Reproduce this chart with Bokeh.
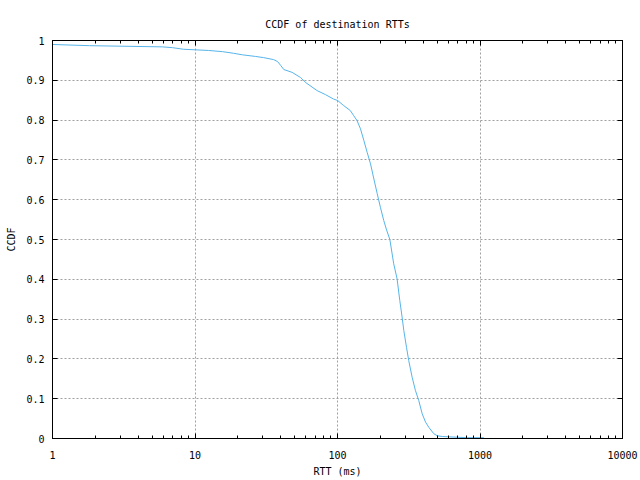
from bokeh.plotting import figure
from bokeh.models import FixedTicker, LogAxis, LinearAxis, Range1d
from bokeh.embed import file_html
from bokeh.resources import INLINE

rtt_ms = [1, 1.82, 5.9, 6.95, 8.3, 12.4, 15.6, 18.6, 21.5, 26.5, 30.3, 35.6, 38, 40, 42, 48,
          55, 60, 72, 82.4, 93.7, 100.5, 110, 123, 129.5, 137, 145, 153, 161.5, 170.5, 180,
          190, 200, 211, 221, 233, 248, 262, 273.5, 284, 292, 305, 316, 334, 352, 372, 393,
          415, 437.5, 474, 501, 543, 813, 1064]
ccdf = [0.990, 0.987, 0.984, 0.982, 0.978, 0.975, 0.972, 0.968, 0.964, 0.960, 0.957, 0.952,
        0.947, 0.937, 0.927, 0.920, 0.907, 0.894, 0.874, 0.864, 0.853, 0.849, 0.837, 0.824,
        0.812, 0.799, 0.778, 0.749, 0.719, 0.690, 0.652, 0.615, 0.581, 0.548, 0.524, 0.500,
        0.439, 0.401, 0.347, 0.305, 0.271, 0.229, 0.196, 0.154, 0.121, 0.095, 0.062, 0.041,
        0.028, 0.012, 0.007, 0.005, 0.002, 0.002]

x_major = [1, 10, 100, 1000, 10000]
x_minor = [m * d for d in [1, 10, 100, 1000] for m in range(2, 10)]
x_labels = ["1", "10", "100", "1000", "10000"]
y_major = [0, 0.1, 0.2, 0.3, 0.4, 0.5, 0.6, 0.7, 0.8, 0.9, 1]
y_labels = ["0", "0.1", "0.2", "0.3", "0.4", "0.5", "0.6", "0.7", "0.8", "0.9", "1"]

FONT = "DejaVu Sans Mono"
FS = "10px"

p = figure(x_axis_type="log", x_range=Range1d(1, 10000), y_range=Range1d(0, 1),
           frame_width=570, frame_height=398, output_backend="svg", toolbar_location=None,
           min_border_left=52, min_border_right=18, min_border_top=40, min_border_bottom=42,
           title="CCDF of destination RTTs")
p.title.align = "center"
p.title.text_font = FONT
p.title.text_font_size = FS
p.title.text_font_style = "normal"
p.title.text_color = "black"
p.title.standoff = 22
p.background_fill_color = "white"
p.border_fill_color = "white"
p.outline_line_color = "black"
p.outline_line_width = 1

xt = FixedTicker(ticks=x_major, minor_ticks=x_minor)
yt = FixedTicker(ticks=y_major)

xa = p.xaxis[0]
xa.ticker = xt
xa.major_label_overrides = {v: s for v, s in zip(x_major, x_labels)}
xa.axis_label = "RTT (ms)"
ya = p.yaxis[0]
ya.ticker = yt
ya.major_label_overrides = {v: s for v, s in zip(y_major, y_labels)}
ya.axis_label = "CCDF"

for ax in (xa, ya):
    ax.axis_line_color = "black"
    ax.major_tick_in = 5
    ax.major_tick_out = 0
    ax.minor_tick_in = 3
    ax.minor_tick_out = 0
    ax.major_tick_line_color = "black"
    ax.minor_tick_line_color = "black"
    ax.major_label_text_font = FONT
    ax.major_label_text_font_size = FS
    ax.major_label_text_color = "black"
    ax.axis_label_text_font = FONT
    ax.axis_label_text_font_size = FS
    ax.axis_label_text_font_style = "normal"
    ax.axis_label_text_color = "black"
ya.minor_tick_line_color = None
xa.major_label_standoff = 12
xa.axis_label_standoff = 4
ya.major_label_standoff = 8
ya.axis_label_standoff = 6

top = LogAxis(ticker=FixedTicker(ticks=x_major, minor_ticks=x_minor),
              major_label_text_color=None, major_label_text_font_size="2px",
              major_tick_in=5, major_tick_out=0,
              minor_tick_in=3, minor_tick_out=0, major_label_standoff=0,
              axis_line_color="black")
right = LinearAxis(ticker=FixedTicker(ticks=y_major),
                   major_label_text_color=None, major_label_text_font_size="2px",
                   major_tick_in=5, major_tick_out=0,
                   minor_tick_line_color=None, major_label_standoff=0,
                   axis_line_color="black")
p.add_layout(top, "above")
p.add_layout(right, "right")

for g in (p.xgrid[0], p.ygrid[0]):
    g.grid_line_color = "#a0a0a0"
    g.grid_line_dash = "2 2"
    g.grid_line_width = 1
p.xgrid[0].ticker = xt
p.ygrid[0].ticker = yt

p.line(rtt_ms, ccdf, line_color="#56b4e9", line_width=1)

open("out.html", "w").write(file_html(p, INLINE))
